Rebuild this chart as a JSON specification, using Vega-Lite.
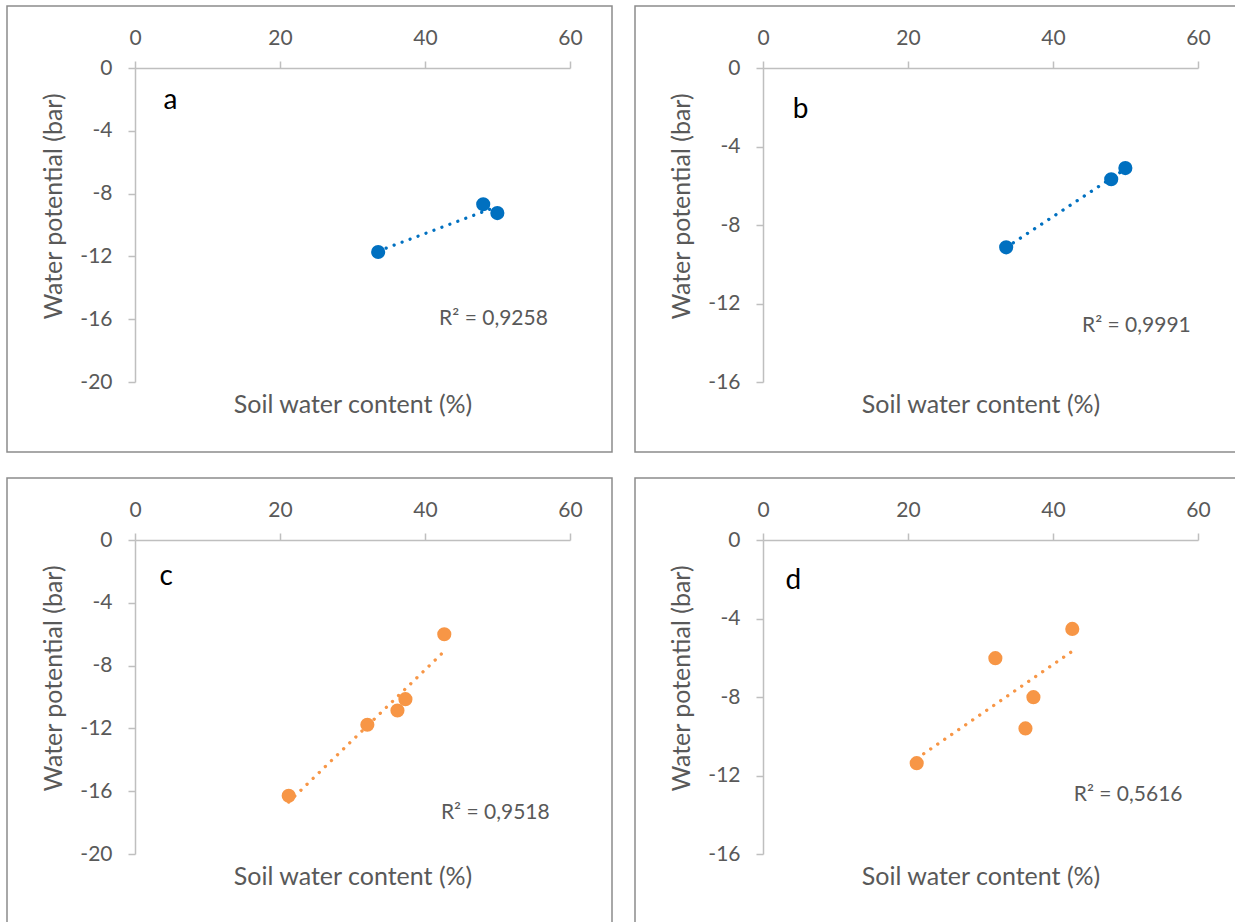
{
  "$schema": "https://vega.github.io/schema/vega-lite/v6.json",
  "background": "white",
  "padding": {"left": 6, "top": 5, "right": 0, "bottom": 0},
  "datasets": {
    "pts": [
      {"panel": "a", "swc": 33.54, "wp": -11.72},
      {"panel": "a", "swc": 48.03, "wp": -8.68},
      {"panel": "a", "swc": 49.98, "wp": -9.24},
      {"panel": "b", "swc": 33.54, "wp": -9.14},
      {"panel": "b", "swc": 48.03, "wp": -5.67},
      {"panel": "b", "swc": 49.98, "wp": -5.10},
      {"panel": "c", "swc": 21.2, "wp": -16.29},
      {"panel": "c", "swc": 32.05, "wp": -11.77},
      {"panel": "c", "swc": 36.2, "wp": -10.86},
      {"panel": "c", "swc": 37.3, "wp": -10.14},
      {"panel": "c", "swc": 42.66, "wp": -6.0},
      {"panel": "d", "swc": 21.2, "wp": -11.37},
      {"panel": "d", "swc": 32.05, "wp": -6.02},
      {"panel": "d", "swc": 36.2, "wp": -9.6},
      {"panel": "d", "swc": 37.3, "wp": -8.01},
      {"panel": "d", "swc": 42.66, "wp": -4.53}
    ],
    "notes": [
      {"panel": "a", "letter": "a", "r2": "R² = 0,9258"},
      {"panel": "b", "letter": "b", "r2": "R² = 0,9991"},
      {"panel": "c", "letter": "c", "r2": "R² = 0,9518"},
      {"panel": "d", "letter": "d", "r2": "R² = 0,5616"}
    ]
  },
  "config": {
    "font": "Lato",
    "view": {"stroke": "#8c8c8c", "strokeWidth": 1.5},
    "axis": {
      "grid": false,
      "labelFlush": false,
      "labelOverlap": false,
      "domainColor": "#BFBFBF",
      "domainWidth": 1.5,
      "tickColor": "#BFBFBF",
      "tickWidth": 1.5,
      "tickSize": 7,
      "labelColor": "#595959",
      "labelFont": "Lato",
      "labelFontSize": 21,
      "titleColor": "#595959",
      "titleFont": "Lato",
      "titleFontSize": 25,
      "titleFontWeight": "normal"
    }
  },
  "columns": 2,
  "spacing": {"row": 26, "column": 23},
  "bounds": "flush",
  "concat": [
    {
      "width": 605, "height": 446,
      "layer": [
        {
          "data": {"name": "pts"},
          "transform": [{"filter": "datum.panel == 'a'"}, {"regression": "wp", "on": "swc"}],
          "mark": {"type": "line", "color": "#0070C0", "strokeWidth": 3.3, "strokeDash": [0.1, 8.4], "strokeCap": "round"},
          "encoding": {
            "x": {"field": "swc", "type": "quantitative", "scale": {"domain": [0, 60], "range": [128, 563], "nice": false, "zero": false},
                  "axis": {"orient": "top", "offset": -62, "values": [0, 20, 40, 60], "labelPadding": 23, "labelBaseline": "middle", "title": "Soil water content (%)", "titleX": 345.5, "titleY": 336, "titleAlign": "center", "titleBaseline": "middle"}},
            "y": {"field": "wp", "type": "quantitative", "scale": {"domain": [-20, 0], "range": [376, 62], "nice": false, "zero": false},
                  "axis": {"orient": "left", "offset": -128, "values": [-20, -16, -12, -8, -4, 0], "labelPadding": 16, "labelExpr": "replace(datum.label, '−', '-')", "title": "Water potential (bar)", "titleX": -82, "titleY": 200, "titleAlign": "center", "titleBaseline": "middle", "titleAngle": 270}}
          }
        },
        {
          "data": {"name": "pts"},
          "transform": [{"filter": "datum.panel == 'a'"}],
          "mark": {"type": "circle", "color": "#0070C0", "opacity": 1, "size": 200},
          "encoding": {
            "x": {"field": "swc", "type": "quantitative"},
            "y": {"field": "wp", "type": "quantitative"}
          }
        },
        {
          "data": {"name": "notes"},
          "transform": [{"filter": "datum.panel == 'a'"}],
          "mark": {"type": "text", "fontSize": 28, "color": "#000000", "align": "center", "baseline": "middle"},
          "encoding": {"x": {"datum": 4.9, "type": "quantitative"}, "y": {"datum": -2.1, "type": "quantitative"}, "text": {"field": "letter"}}
        },
        {
          "data": {"name": "notes"},
          "transform": [{"filter": "datum.panel == 'a'"}],
          "mark": {"type": "text", "fontSize": 21, "color": "#595959", "align": "center", "baseline": "middle"},
          "encoding": {"x": {"datum": 49.45, "type": "quantitative"}, "y": {"datum": -15.96, "type": "quantitative"}, "text": {"field": "r2"}}
        }
      ]
    },
    {
      "width": 605, "height": 446,
      "layer": [
        {
          "data": {"name": "pts"},
          "transform": [{"filter": "datum.panel == 'b'"}, {"regression": "wp", "on": "swc"}],
          "mark": {"type": "line", "color": "#0070C0", "strokeWidth": 3.3, "strokeDash": [0.1, 8.4], "strokeCap": "round"},
          "encoding": {
            "x": {"field": "swc", "type": "quantitative", "scale": {"domain": [0, 60], "range": [128, 563], "nice": false, "zero": false},
                  "axis": {"orient": "top", "offset": -62, "values": [0, 20, 40, 60], "labelPadding": 23, "labelBaseline": "middle", "title": "Soil water content (%)", "titleX": 345.5, "titleY": 336, "titleAlign": "center", "titleBaseline": "middle"}},
            "y": {"field": "wp", "type": "quantitative", "scale": {"domain": [-16, 0], "range": [376, 62], "nice": false, "zero": false},
                  "axis": {"orient": "left", "offset": -128, "values": [-16, -12, -8, -4, 0], "labelPadding": 16, "labelExpr": "replace(datum.label, '−', '-')", "title": "Water potential (bar)", "titleX": -82, "titleY": 200, "titleAlign": "center", "titleBaseline": "middle", "titleAngle": 270}}
          }
        },
        {
          "data": {"name": "pts"},
          "transform": [{"filter": "datum.panel == 'b'"}],
          "mark": {"type": "circle", "color": "#0070C0", "opacity": 1, "size": 200},
          "encoding": {
            "x": {"field": "swc", "type": "quantitative"},
            "y": {"field": "wp", "type": "quantitative"}
          }
        },
        {
          "data": {"name": "notes"},
          "transform": [{"filter": "datum.panel == 'b'"}],
          "mark": {"type": "text", "fontSize": 28, "color": "#000000", "align": "center", "baseline": "middle"},
          "encoding": {"x": {"datum": 5.2, "type": "quantitative"}, "y": {"datum": -2.15, "type": "quantitative"}, "text": {"field": "letter"}}
        },
        {
          "data": {"name": "notes"},
          "transform": [{"filter": "datum.panel == 'b'"}],
          "mark": {"type": "text", "fontSize": 21, "color": "#595959", "align": "center", "baseline": "middle"},
          "encoding": {"x": {"datum": 51.5, "type": "quantitative"}, "y": {"datum": -13.16, "type": "quantitative"}, "text": {"field": "r2"}}
        }
      ]
    },
    {
      "width": 605, "height": 446,
      "layer": [
        {
          "data": {"name": "pts"},
          "transform": [{"filter": "datum.panel == 'c'"}, {"regression": "wp", "on": "swc"}],
          "mark": {"type": "line", "color": "#F79646", "strokeWidth": 3.3, "strokeDash": [0.1, 8.4], "strokeCap": "round"},
          "encoding": {
            "x": {"field": "swc", "type": "quantitative", "scale": {"domain": [0, 60], "range": [128, 563], "nice": false, "zero": false},
                  "axis": {"orient": "top", "offset": -62, "values": [0, 20, 40, 60], "labelPadding": 23, "labelBaseline": "middle", "title": "Soil water content (%)", "titleX": 345.5, "titleY": 336, "titleAlign": "center", "titleBaseline": "middle"}},
            "y": {"field": "wp", "type": "quantitative", "scale": {"domain": [-20, 0], "range": [376, 62], "nice": false, "zero": false},
                  "axis": {"orient": "left", "offset": -128, "values": [-20, -16, -12, -8, -4, 0], "labelPadding": 16, "labelExpr": "replace(datum.label, '−', '-')", "title": "Water potential (bar)", "titleX": -82, "titleY": 200, "titleAlign": "center", "titleBaseline": "middle", "titleAngle": 270}}
          }
        },
        {
          "data": {"name": "pts"},
          "transform": [{"filter": "datum.panel == 'c'"}],
          "mark": {"type": "circle", "color": "#F79646", "opacity": 1, "size": 200},
          "encoding": {
            "x": {"field": "swc", "type": "quantitative"},
            "y": {"field": "wp", "type": "quantitative"}
          }
        },
        {
          "data": {"name": "notes"},
          "transform": [{"filter": "datum.panel == 'c'"}],
          "mark": {"type": "text", "fontSize": 28, "color": "#000000", "align": "center", "baseline": "middle"},
          "encoding": {"x": {"datum": 4.3, "type": "quantitative"}, "y": {"datum": -2.33, "type": "quantitative"}, "text": {"field": "letter"}}
        },
        {
          "data": {"name": "notes"},
          "transform": [{"filter": "datum.panel == 'c'"}],
          "mark": {"type": "text", "fontSize": 21, "color": "#595959", "align": "center", "baseline": "middle"},
          "encoding": {"x": {"datum": 49.7, "type": "quantitative"}, "y": {"datum": -17.37, "type": "quantitative"}, "text": {"field": "r2"}}
        }
      ]
    },
    {
      "width": 605, "height": 446,
      "layer": [
        {
          "data": {"name": "pts"},
          "transform": [{"filter": "datum.panel == 'd'"}, {"regression": "wp", "on": "swc"}],
          "mark": {"type": "line", "color": "#F79646", "strokeWidth": 3.3, "strokeDash": [0.1, 8.4], "strokeCap": "round"},
          "encoding": {
            "x": {"field": "swc", "type": "quantitative", "scale": {"domain": [0, 60], "range": [128, 563], "nice": false, "zero": false},
                  "axis": {"orient": "top", "offset": -62, "values": [0, 20, 40, 60], "labelPadding": 23, "labelBaseline": "middle", "title": "Soil water content (%)", "titleX": 345.5, "titleY": 336, "titleAlign": "center", "titleBaseline": "middle"}},
            "y": {"field": "wp", "type": "quantitative", "scale": {"domain": [-16, 0], "range": [376, 62], "nice": false, "zero": false},
                  "axis": {"orient": "left", "offset": -128, "values": [-16, -12, -8, -4, 0], "labelPadding": 16, "labelExpr": "replace(datum.label, '−', '-')", "title": "Water potential (bar)", "titleX": -82, "titleY": 200, "titleAlign": "center", "titleBaseline": "middle", "titleAngle": 270}}
          }
        },
        {
          "data": {"name": "pts"},
          "transform": [{"filter": "datum.panel == 'd'"}],
          "mark": {"type": "circle", "color": "#F79646", "opacity": 1, "size": 200},
          "encoding": {
            "x": {"field": "swc", "type": "quantitative"},
            "y": {"field": "wp", "type": "quantitative"}
          }
        },
        {
          "data": {"name": "notes"},
          "transform": [{"filter": "datum.panel == 'd'"}],
          "mark": {"type": "text", "fontSize": 28, "color": "#000000", "align": "center", "baseline": "middle"},
          "encoding": {"x": {"datum": 4.2, "type": "quantitative"}, "y": {"datum": -2.09, "type": "quantitative"}, "text": {"field": "letter"}}
        },
        {
          "data": {"name": "notes"},
          "transform": [{"filter": "datum.panel == 'd'"}],
          "mark": {"type": "text", "fontSize": 21, "color": "#595959", "align": "center", "baseline": "middle"},
          "encoding": {"x": {"datum": 50.36, "type": "quantitative"}, "y": {"datum": -12.99, "type": "quantitative"}, "text": {"field": "r2"}}
        }
      ]
    }
  ]
}
